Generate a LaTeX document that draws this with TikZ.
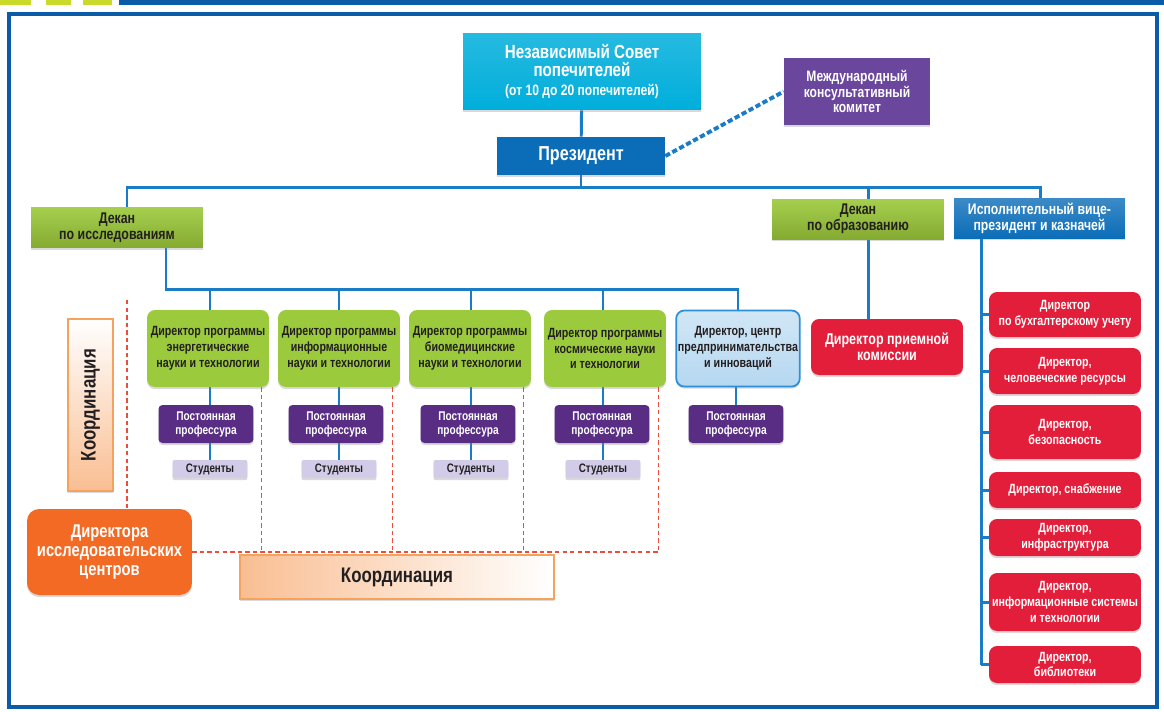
\documentclass[tikz,border=0pt]{standalone}
\usepackage{fontspec}
\setmainfont{Liberation Sans}[FakeStretch=0.8]
\usetikzlibrary{backgrounds,shadows}

\definecolor{frameblue}{HTML}{0B5CA8}
\definecolor{lineblue}{HTML}{1A7CC7}
\definecolor{boardcyan}{HTML}{00AEDB}
\definecolor{presblue}{HTML}{0B6DB8}
\definecolor{comviolet}{HTML}{6A479C}
\definecolor{deangreen}{HTML}{9CC93A}
\definecolor{progreen}{HTML}{9BCB3D}
\definecolor{profviolet}{HTML}{5A2D85}
\definecolor{studlilac}{HTML}{D2CCE8}
\definecolor{dirred}{HTML}{E31E3A}
\definecolor{rcorange}{HTML}{F26A23}
\definecolor{coordpeach}{HTML}{F9BE92}
\definecolor{coordedge}{HTML}{F5A25E}
\definecolor{dashred}{HTML}{EF4B3A}
\definecolor{topgreen}{HTML}{C9DA2B}
\definecolor{innoblue}{HTML}{2E8FD6}
\definecolor{inktext}{HTML}{231F20}

\newcommand{\fs}[2]{\fontsize{#1}{#2}\selectfont\bfseries}

\tikzset{
  box/.style={inner sep=1pt, align=center,
    drop shadow={shadow xshift=0pt, shadow yshift=-1.2pt, opacity=0.3}},
  boardbox/.style={box, top color=boardcyan!85!white, bottom color=boardcyan, text=white, font=\fs{10.8}{10.5},
    minimum width=4.76cm, minimum height=1.54cm},
  combox/.style={box, fill=comviolet, text=white, font=\fs{8.6}{9},
    minimum width=2.92cm, minimum height=1.34cm},
  presbox/.style={box, fill=presblue, text=white, font=\fs{11.5}{12},
    minimum width=3.36cm, minimum height=0.76cm},
  deanbox/.style={box, top color=deangreen!90!white, bottom color=deangreen!85!black, text=inktext,
    font=\fs{8.8}{9.2}, minimum width=3.44cm, minimum height=0.8cm},
  evpbox/.style={box, top color=presblue!80!white, bottom color=presblue, text=white, font=\fs{8.7}{9},
    minimum width=3.42cm, minimum height=0.8cm},
  progbox/.style={box, rounded corners=0.16cm, fill=progreen, text=inktext, font=\fs{7.6}{9},
    minimum width=2.44cm, minimum height=1.54cm},
  innobox/.style={box, rounded corners=0.16cm, top color=innoblue!22!white, bottom color=innoblue!35!white,
    draw=innoblue, line width=1pt, text=inktext, font=\fs{7.6}{9}, minimum width=2.44cm, minimum height=1.52cm},
  profbox/.style={box, rounded corners=0.08cm, fill=profviolet, text=white, font=\fs{7.2}{8},
    minimum width=1.9cm, minimum height=0.76cm},
  studbox/.style={box, rounded corners=0.04cm, fill=studlilac, text=inktext, font=\fs{7}{7.5},
    minimum width=1.5cm, minimum height=0.36cm},
  redbox/.style={box, rounded corners=0.16cm, fill=dirred, text=white, font=\fs{7.6}{9},
    minimum width=3.04cm},
  rcbox/.style={box, rounded corners=0.24cm, fill=rcorange, text=white, font=\fs{10.5}{11},
    minimum width=3.3cm, minimum height=1.72cm},
  coordbox/.style={box, draw=coordedge, line width=1pt, text=inktext, font=\fs{12}{12}},
  conn/.style={lineblue, line width=1.7pt},
  coordline/.style={dashred, line width=0.9pt, dash pattern=on 2.5pt off 1.8pt}
}

\begin{document}
\begin{tikzpicture}[x=0.02cm, y=-0.02cm]
    \useasboundingbox (0,0) rectangle (1164,711);

    \fill[topgreen] (0,0) rectangle (31,5);
    \fill[topgreen] (46,0) rectangle (71,5);
    \fill[topgreen] (83,0) rectangle (112,5);
    \fill[frameblue] (119,0) rectangle (1164,5);
    \draw[frameblue, line width=2.3pt] (9,14) rectangle (1157,707);

    \node[boardbox] (board) at (582,71.5) {Независимый Совет\\попечителей\\\fs{8.6}{10}(от 10 до 20 попечителей)};
    \node[combox] (comm) at (857,91.5) {Международный\\консультативный\\комитет};
    \node[presbox] (pres) at (581,156) {Президент};

    \node[deanbox] (deanRes) at (117,227.5) {Декан\\по исследованиям};
    \node[deanbox] (deanEdu) at (858,219) {Декан\\по образованию};
    \node[evpbox] (evp) at (1039.5,218) {Исполнительный вице-\\президент и казначей};

    \node[progbox] (pdEnergy) at (208,348.5) {Директор программы\\энергетические\\науки и технологии};
    \node[progbox] (pdInfo) at (339,348.5) {Директор программы\\информационные\\науки и технологии};
    \node[progbox] (pdBio) at (470,348.5) {Директор программы\\биомедицинские\\науки и технологии};
    \node[progbox] (pdSpace) at (605,348.5) {Директор программы\\космические науки\\и технологии};
    \node[innobox] (pdInno) at (738,348.5) {Директор, центр\\предпринимательства\\и инноваций};

    \foreach \n/\x in {Energy/206, Info/336, Bio/468, Space/602, Inno/736}
        \node[profbox] (pr\n) at (\x,424) {Постоянная\\профессура};
    \foreach \n/\x in {Energy/210, Info/339, Bio/471, Space/603}
        \node[studbox] (st\n) at (\x,469) {Студенты};

    \node[redbox, minimum height=1.12cm, font=\fs{8.9}{9}] (adm) at (887,347) {Директор приемной\\комиссии};

    \node[redbox, minimum height=0.9cm] (acc) at (1065,314.5) {Директор\\по бухгалтерскому учету};
    \node[redbox, minimum height=0.92cm] (hr) at (1065,371) {Директор,\\человеческие ресурсы};
    \node[redbox, minimum height=1.08cm] (sec) at (1065,432) {Директор,\\безопасность};
    \node[redbox, minimum height=0.72cm] (sup) at (1065,490) {Директор, снабжение};
    \node[redbox, minimum height=0.74cm] (infra) at (1065,537.5) {Директор,\\инфраструктура};
    \node[redbox, minimum height=1.16cm] (isys) at (1065,602) {Директор,\\информационные системы\\и технологии};
    \node[redbox, minimum height=0.74cm] (lib) at (1065,664.5) {Директор,\\библиотеки};

    \node[coordbox, top color=white, bottom color=coordpeach, minimum width=0.9cm, minimum height=3.44cm] (coordV) at (90.5,405) {\rotatebox{90}{Координация}};
    \node[rcbox] (resC) at (109.5,552) {Директора\\исследовательских\\центров};
    \node[coordbox, left color=coordpeach, right color=white, minimum width=6.28cm, minimum height=0.88cm] (coordH) at (397,577) {Координация};

    \coordinate (busL) at (127,187);
    \coordinate (busR) at (1040,187);
    \coordinate (eduX) at (868,187);
    \coordinate (resX) at (166,289);
    \coordinate (opsX) at (981,238);
    \coordinate (coordTop) at (127,300);

    \begin{pgfonlayer}{background}
    \draw[conn] (board) -- (pres);
    \draw[lineblue, line width=2.2pt, dash pattern=on 3pt off 1.5pt] (pres.east) -- (comm.west);
    \draw[conn] (pres) -- (pres |- busL);
    \draw[conn] (busL |- deanRes.north) -- (busL) -- (busR) -- (busR |- evp.north);
    \draw[conn] (eduX) -- (eduX |- adm.north);
    \draw[conn] (resX |- deanRes.south) -- (resX) -- (resX -| pdInno.north) -- (pdInno.north);
    \foreach \n in {Energy, Info, Bio, Space}
        \draw[conn] (st\n.north |- resX) -- (st\n.north);
    \draw[conn] (pdInno.south -| prInno) -- (prInno.north);
    \draw[conn] (opsX) -- (opsX |- lib.west);
    \foreach \b in {acc, hr, sec, sup, infra, isys, lib}
        \draw[conn] (opsX |- \b.west) -- (\b.west);
    \end{pgfonlayer}

    \draw[coordline] (coordTop) -- (coordTop |- resC.north);
    \foreach \n in {Energy, Info, Bio, Space}
        \draw[coordline] ([xshift=-0.16cm]pd\n.south east) -- ([xshift=-0.16cm]pd\n.south east |- resC.east);
    \draw[coordline] (resC.east) -- ([xshift=-0.16cm]pdSpace.south east |- resC.east);
\end{tikzpicture}
\end{document}
